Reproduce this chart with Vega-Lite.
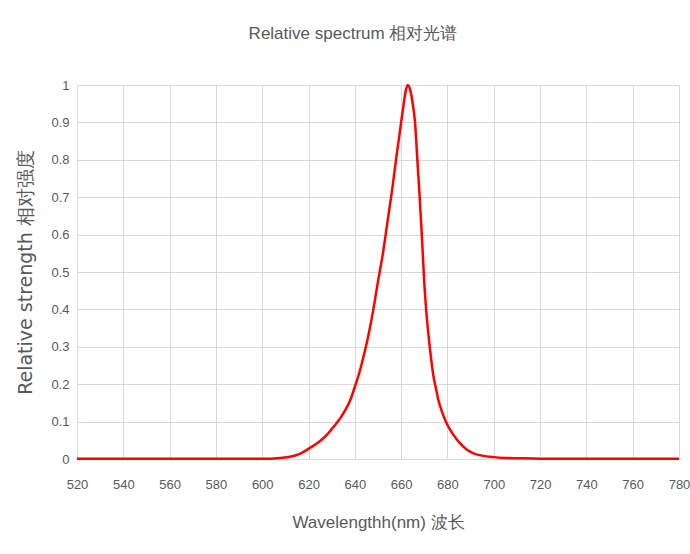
{
  "$schema": "https://vega.github.io/schema/vega-lite/v6.json",
  "autosize": "none",
  "width": 602,
  "height": 374,
  "padding": {"left": 77, "top": 85, "right": 11, "bottom": 95},
  "background": "white",
  "title": {
    "text": "Relative spectrum 相对光谱",
    "font": "Liberation Sans",
    "fontSize": 17,
    "fontWeight": "normal",
    "color": "#595959",
    "anchor": "middle",
    "dx": -25,
    "offset": 36
  },
  "data": {
    "values": [
      {"wavelength": 520, "intensity": 0.001},
      {"wavelength": 540, "intensity": 0.001},
      {"wavelength": 560, "intensity": 0.001},
      {"wavelength": 580, "intensity": 0.001},
      {"wavelength": 600, "intensity": 0.001},
      {"wavelength": 603, "intensity": 0.001},
      {"wavelength": 608, "intensity": 0.003},
      {"wavelength": 612, "intensity": 0.006},
      {"wavelength": 616, "intensity": 0.013},
      {"wavelength": 620, "intensity": 0.027},
      {"wavelength": 622, "intensity": 0.035},
      {"wavelength": 625, "intensity": 0.048},
      {"wavelength": 628, "intensity": 0.065},
      {"wavelength": 630, "intensity": 0.08},
      {"wavelength": 632, "intensity": 0.095},
      {"wavelength": 634, "intensity": 0.112},
      {"wavelength": 636, "intensity": 0.132},
      {"wavelength": 638, "intensity": 0.157},
      {"wavelength": 640, "intensity": 0.193},
      {"wavelength": 642, "intensity": 0.232},
      {"wavelength": 644, "intensity": 0.28},
      {"wavelength": 646, "intensity": 0.335},
      {"wavelength": 648, "intensity": 0.4},
      {"wavelength": 650, "intensity": 0.475},
      {"wavelength": 652, "intensity": 0.545},
      {"wavelength": 654, "intensity": 0.63},
      {"wavelength": 656, "intensity": 0.715},
      {"wavelength": 658, "intensity": 0.81},
      {"wavelength": 660, "intensity": 0.9},
      {"wavelength": 661, "intensity": 0.945},
      {"wavelength": 662, "intensity": 0.985},
      {"wavelength": 662.8, "intensity": 1.0},
      {"wavelength": 664, "intensity": 0.985},
      {"wavelength": 665, "intensity": 0.95},
      {"wavelength": 666, "intensity": 0.9},
      {"wavelength": 667, "intensity": 0.8},
      {"wavelength": 668, "intensity": 0.7},
      {"wavelength": 669, "intensity": 0.59},
      {"wavelength": 670, "intensity": 0.47},
      {"wavelength": 671, "intensity": 0.385},
      {"wavelength": 672, "intensity": 0.32},
      {"wavelength": 673, "intensity": 0.265},
      {"wavelength": 674, "intensity": 0.22},
      {"wavelength": 675, "intensity": 0.19},
      {"wavelength": 676, "intensity": 0.16},
      {"wavelength": 678, "intensity": 0.12},
      {"wavelength": 680, "intensity": 0.091},
      {"wavelength": 682, "intensity": 0.07},
      {"wavelength": 685, "intensity": 0.045},
      {"wavelength": 688, "intensity": 0.027},
      {"wavelength": 691, "intensity": 0.016},
      {"wavelength": 695, "intensity": 0.009},
      {"wavelength": 700, "intensity": 0.005},
      {"wavelength": 705, "intensity": 0.003},
      {"wavelength": 711, "intensity": 0.002},
      {"wavelength": 720, "intensity": 0.001},
      {"wavelength": 740, "intensity": 0.001},
      {"wavelength": 760, "intensity": 0.001},
      {"wavelength": 780, "intensity": 0.001}
    ]
  },
  "mark": {"type": "line", "color": "#ff0000", "strokeWidth": 2.5, "interpolate": "monotone"},
  "encoding": {
    "x": {
      "field": "wavelength",
      "type": "quantitative",
      "scale": {"domain": [520, 780], "nice": false, "zero": false},
      "axis": {
        "values": [520, 540, 560, 580, 600, 620, 640, 660, 680, 700, 720, 740, 760, 780],
        "title": "Wavelengthh(nm) 波长",
        "titleFont": "Liberation Sans",
        "titleFontSize": 17,
        "titleFontWeight": "normal",
        "titleColor": "#595959",
        "titleY": 63,
        "titleBaseline": "middle",
        "labelFont": "Liberation Sans",
        "labelFontSize": 13,
        "labelColor": "#595959",
        "labelPadding": 19,
        "labelFlush": false,
        "labelOverlap": false,
        "ticks": false,
        "domain": false,
        "gridColor": "#d9d9d9",
        "gridWidth": 1
      }
    },
    "y": {
      "field": "intensity",
      "type": "quantitative",
      "scale": {"domain": [0, 1], "nice": false},
      "axis": {
        "values": [0, 0.1, 0.2, 0.3, 0.4, 0.5, 0.6, 0.7, 0.8, 0.9, 1],
        "format": "~g",
        "title": "Relative strength 相对强度",
        "titleFont": "DejaVu Sans",
        "titleFontSize": 19,
        "titleFontWeight": "normal",
        "titleColor": "#595959",
        "titleAngle": -90,
        "titleX": -52,
        "titleY": 187,
        "titleAlign": "center",
        "titleBaseline": "middle",
        "labelFont": "Liberation Sans",
        "labelFontSize": 13,
        "labelColor": "#595959",
        "labelPadding": 8,
        "labelFlush": false,
        "labelOverlap": false,
        "ticks": false,
        "domain": false,
        "gridColor": "#d9d9d9",
        "gridWidth": 1
      }
    }
  },
  "config": {
    "view": {"stroke": null}
  }
}
